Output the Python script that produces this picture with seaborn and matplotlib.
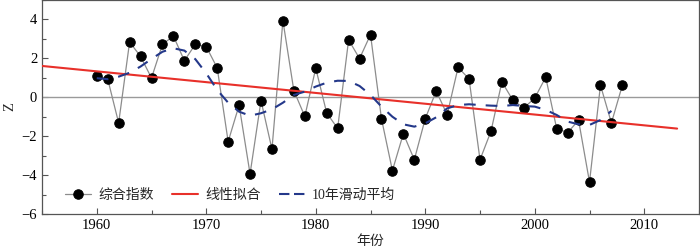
import matplotlib
matplotlib.use("Agg")
import matplotlib.pyplot as plt
import seaborn as sns
from matplotlib.ticker import MultipleLocator

years = list(range(1960, 2009))
index_values = [
    1.11, 0.94, -1.32, 2.84, 2.10, 0.99, 2.72, 3.15, 1.88, 2.72,
    2.60, 1.51, -2.28, -0.41, -3.94, -0.17, -2.67, 3.94, 0.34, -0.98,
    1.49, -0.81, -1.60, 2.95, 1.99, 3.22, -1.10, -3.77, -1.87, -3.21,
    -1.10, 0.32, -0.89, 1.54, 0.94, -3.21, -1.75, 0.79, -0.15, -0.55,
    -0.04, 1.03, -1.61, -1.82, -1.18, -4.36, 0.62, -1.32, 0.62,
]

fit_years = [1955, 2013]
fit_values = [1.61, -1.61]

ma_years = list(range(1960, 2008))
ma_values = [
    0.98, 0.93, 1.06, 1.26, 1.58, 1.97, 2.34, 2.52, 2.40, 1.96,
    1.23, 0.38, -0.28, -0.74, -0.95, -0.82, -0.62, -0.28, 0.12, 0.29,
    0.55, 0.75, 0.85, 0.84, 0.58, 0.12, -0.48, -1.00, -1.39, -1.51,
    -1.34, -1.03, -0.57, -0.40, -0.36, -0.40, -0.43, -0.45, -0.40, -0.45,
    -0.48, -0.65, -0.91, -1.25, -1.39, -1.42, -1.17, -0.70,
]

sns.set_style("ticks")
plt.rcParams["font.family"] = ["Liberation Serif", "Noto Sans CJK SC"]
plt.rcParams["axes.unicode_minus"] = True

fig = plt.figure(figsize=(7.0, 2.49), dpi=100)
ax = fig.add_axes([0.06, 0.1406, 0.9386, 0.8594])

ax.axhline(0, color="#9a9a9a", lw=1.0, zorder=1)

sns.lineplot(x=years, y=index_values, ax=ax, color="#8c8c8c", lw=0.9,
             marker="o", markersize=6.8, markerfacecolor="black",
             markeredgecolor="black", label="综合指数", zorder=3)
sns.lineplot(x=fit_years, y=fit_values, ax=ax, color="#e8302a", lw=1.5,
             label="线性拟合", zorder=4)
sns.lineplot(x=ma_years, y=ma_values, ax=ax, color="#24388a", lw=1.5,
             label="10年滑动平均", zorder=5)
ax.lines[-1].set_dashes([5.6, 4.8])

ax.set_xlim(1955, 2015)
ax.set_ylim(-6, 5)
ax.set_xticks(range(1960, 2011, 10))
ax.set_yticks(range(-6, 5, 2))
ax.xaxis.set_minor_locator(MultipleLocator(5))
ax.yaxis.set_minor_locator(MultipleLocator(1))
ax.tick_params(which="both", direction="in", colors="#555555",
               labelcolor="black", labelsize=10.5)
ax.tick_params(which="major", length=4.5, width=0.8)
ax.tick_params(which="minor", length=3, width=0.8)
for s in ax.spines.values():
    s.set_visible(True)
    s.set_color("#555555")
    s.set_linewidth(0.9)

ax.set_xlabel("年份", fontsize=10, labelpad=2)
ax.set_ylabel("Z", fontsize=10.5, labelpad=4)

leg = ax.legend(loc="center left", bbox_to_anchor=(0.035, 0.089), ncol=3,
                frameon=False, fontsize=10, borderpad=0, borderaxespad=0,
                handlelength=1.9, handletextpad=0.5, columnspacing=1.3)
leg.get_lines()[2].set_dashes([5.0, 2.2])

fig.savefig("out.png", dpi=100)
